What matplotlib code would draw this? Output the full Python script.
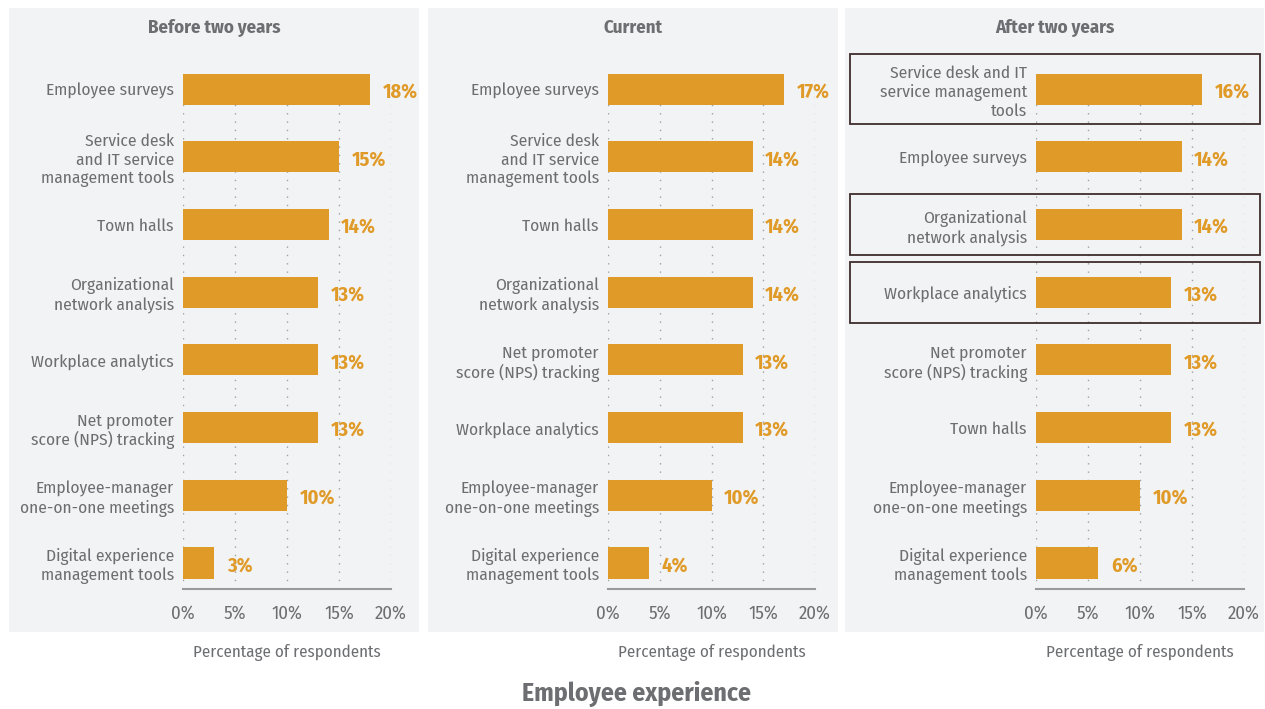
import matplotlib.pyplot as plt
from matplotlib import font_manager as fm
from matplotlib.patches import Rectangle
from matplotlib.transforms import blended_transform_factory

# pick a narrow sans if one is around
available = set(f.name for f in fm.fontManager.ttflist)
narrow = [n for n in ["Fira Sans Condensed", "PT Sans Narrow", "Roboto Condensed", "Archivo Narrow",
                      "Liberation Sans Narrow", "Liberation Sans"] if n in available]
plt.rcParams['font.family'] = narrow[:1] + ['DejaVu Sans']

# ====== data ======
before_cats = ["Employee surveys", "Service desk\nand IT service\nmanagement tools", "Town halls",
               "Organizational\nnetwork analysis", "Workplace analytics",
               "Net promoter\nscore (NPS) tracking", "Employee-manager\none-on-one meetings",
               "Digital experience\nmanagement tools"]
before_vals = [18, 15, 14, 13, 13, 13, 10, 3]

current_cats = ["Employee surveys", "Service desk\nand IT service\nmanagement tools", "Town halls",
                "Organizational\nnetwork analysis", "Net promoter\nscore (NPS) tracking",
                "Workplace analytics", "Employee-manager\none-on-one meetings",
                "Digital experience\nmanagement tools"]
current_vals = [17, 14, 14, 14, 13, 13, 10, 4]

after_cats = ["Service desk and IT\nservice management\ntools", "Employee surveys",
              "Organizational\nnetwork analysis", "Workplace analytics",
              "Net promoter\nscore (NPS) tracking", "Town halls",
              "Employee-manager\none-on-one meetings", "Digital experience\nmanagement tools"]
after_vals = [16, 14, 14, 13, 13, 13, 10, 6]
after_boxed = [0, 2, 3]

titles = ["Before two years", "Current", "After two years"]
xticks = [0, 5, 10, 15, 20]
xtick_labels = ["0%", "5%", "10%", "15%", "20%"]

BAR = "#e09a28"
TXT = "#6d6e71"
BG = "#f2f3f5"

W, H = 1265, 709
fig = plt.figure(figsize=(W / 100, H / 100), dpi=100)

# panel backgrounds (pixel x0, x1), axes (pixel left, right)
panels = [(9, 419), (428, 838), (845, 1264)]
axes_px = [(183, 391), (608, 815), (1036, 1244)]
top_px, bot_px = 8, 632
ax_top, ax_bot = 73, 589

data = [(before_cats, before_vals), (current_cats, current_vals), (after_cats, after_vals)]

for k in range(3):
    px0, px1 = panels[k]
    fig.patches.append(Rectangle((px0 / W, 1 - bot_px / H), (px1 - px0) / W, (bot_px - top_px) / H,
                                 transform=fig.transFigure, facecolor=BG, edgecolor="none", zorder=0))
    l, r = axes_px[k]
    ax = fig.add_axes([l / W, 1 - ax_bot / H, (r - l) / W, (ax_bot - ax_top) / H])
    ax.set_zorder(2)
    ax.set_facecolor("none")
    cats, vals = data[k]
    y = list(range(len(cats)))
    ax.barh(y, vals, height=0.46, color=BAR, zorder=3)
    for i, v in enumerate(vals):
        ax.text(v + 1.2, i + 0.04, f"{v}%", color=BAR, fontsize=14.5, fontweight="bold",
                va="center", ha="left", zorder=4)
    ax.set_xlim(0, 20)
    ax.set_ylim(len(cats) - 1 + 0.385, -0.24)
    ax.set_yticks(y)
    ax.set_yticklabels(cats, fontsize=12.5, color=TXT, linespacing=1.2)
    ax.set_xticks(xticks)
    ax.set_xticklabels(xtick_labels, fontsize=13.5, color=TXT)
    ax.tick_params(axis="both", length=0)
    ax.tick_params(axis="y", pad=6.5)
    ax.tick_params(axis="x", pad=11)
    ax.grid(axis="x", linestyle=(0, (1, 5)), color="#a0a0a0", linewidth=1, zorder=1)
    for s in ["top", "right", "left"]:
        ax.spines[s].set_visible(False)
    ax.spines["bottom"].set_color("#9a9a9a")
    ax.spines["bottom"].set_linewidth(1.5)
    ax.set_xlabel("Percentage of respondents", fontsize=12.2, color=TXT, labelpad=16)

    # panel heading centred over the grey block
    fig.text((px0 + px1) / 2 / W, 1 - 28 / H, titles[k], fontsize=13.5, fontweight="bold",
             color=TXT, ha="center", va="center", zorder=3)

    if k == 2:
        tr = blended_transform_factory(fig.transFigure, ax.transData)
        for i in after_boxed:
            h = 0.52 if cats[i].count("\n") == 2 else 0.45
            ax.add_patch(Rectangle(((px0 + 5) / W, i - h), (px1 - px0 - 9) / W, 2 * h,
                                   transform=tr, fill=False, edgecolor="#3e2c2c",
                                   linewidth=1.3, clip_on=False, zorder=5))

fig.text(637 / W, 1 - 694 / H, "Employee experience", fontsize=18.5, fontweight="bold",
         color=TXT, ha="center", va="center")

fig.savefig("out.png", dpi=100)
